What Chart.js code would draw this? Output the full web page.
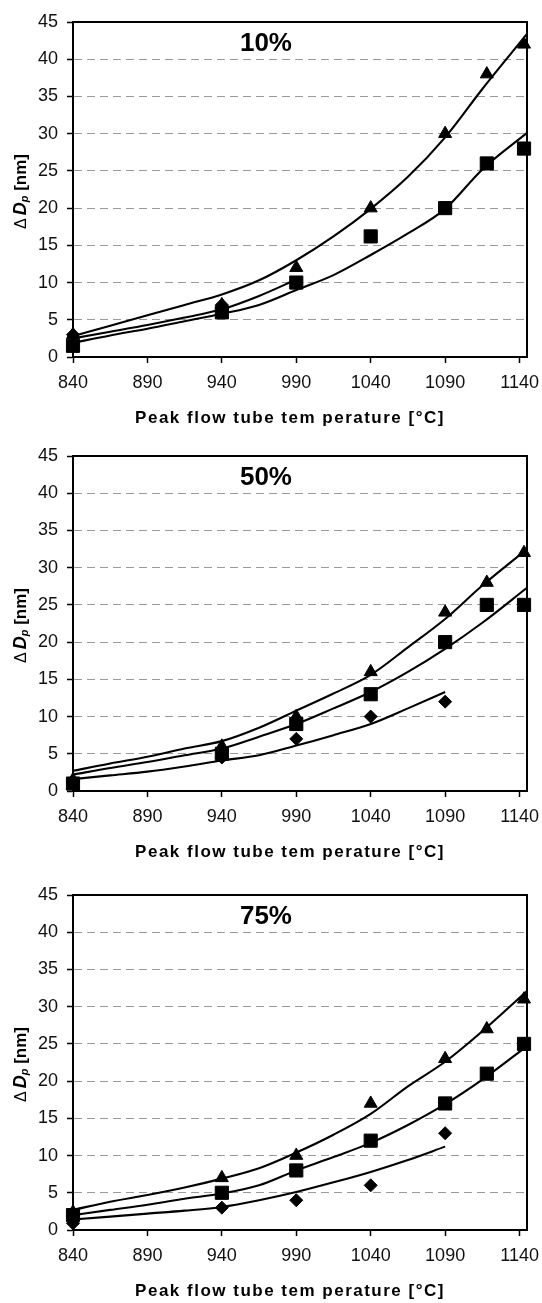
<!DOCTYPE html>
<html>
<head>
<meta charset="utf-8">
<script src="https://cdn.jsdelivr.net/npm/chart.js@4.4.1/dist/chart.umd.min.js"></script>
<style>
  html, body { margin: 0; padding: 0; background: #fff; }
  body { width: 542px; height: 1303px; position: relative; overflow: hidden; }
  .panel { position: absolute; left: 0; width: 542px; height: 430px; }
</style>
</head>
<body>
<div class="panel" style="top:0"><canvas id="c10" width="542" height="430"></canvas></div>
<div class="panel" style="top:434px"><canvas id="c50" width="542" height="430"></canvas></div>
<div class="panel" style="top:873px"><canvas id="c75" width="542" height="430"></canvas></div>
<script>
// temperature axis
const tempTicks = [840, 890, 940, 990, 1040, 1090, 1140];
const markerTemps = [840, 940, 990, 1040, 1090, 1118, 1143];
const fitTemps = [840, 865, 890, 915, 940, 965, 990, 1015, 1040, 1065, 1090, 1115, 1145];
const yTicks = [0, 5, 10, 15, 20, 25, 30, 35, 40, 45];

// 10 %
const tri10 = [3, 7, 12, 20, 30, 38, 42];
const sq10 = [1.5, 6, 10, 16.2, 20, 26, 28];
const dia10 = [3, 7, 10];
const fitTri10 = [2.8, 4.2, 5.6, 7.0, 8.4, 10.3, 13.0, 16.2, 19.9, 24.2, 29.5, 36.0, 43.4];
const fitSq10 = [1.9, 2.9, 3.8, 4.8, 5.8, 7.0, 9.0, 11.0, 13.7, 16.6, 19.9, 25.2, 30.1];
const fitDia10 = [2.5, 3.4, 4.3, 5.3, 6.4, 8.2, 10.4];

// 50 %
const tri50 = [1.5, 6, 10, 16, 24, 28, 32];
const sq50 = [1, 5, 9, 13, 20, 25, 25];
const dia50 = [1.2, 4.5, 7, 10, 12];
const fitTri50 = [2.7, 3.7, 4.6, 5.7, 6.7, 8.5, 10.8, 13.1, 15.6, 19.3, 23.1, 27.6, 32.5];
const fitSq50 = [2.2, 3.1, 3.9, 4.8, 5.7, 7.3, 9.0, 11.1, 13.3, 16.0, 19.1, 22.6, 27.3];
const fitDia50 = [1.6, 2.1, 2.6, 3.3, 4.1, 4.8, 6.1, 7.5, 9.0, 11.1, 13.3];

// 75 %
const tri75 = [2.4, 7, 10, 17, 23, 27, 31];
const sq75 = [2, 5, 8, 12, 17, 21, 25];
const dia75 = [0.9, 3, 4, 6, 13];
const fitTri75 = [2.7, 3.8, 4.7, 5.7, 6.9, 8.3, 10.4, 12.8, 15.6, 19.3, 22.6, 26.7, 32.1];
const fitSq75 = [2.0, 2.7, 3.4, 4.2, 4.9, 6.0, 8.0, 9.8, 11.7, 14.1, 16.9, 20.2, 24.7];
const fitDia75 = [1.4, 1.8, 2.2, 2.6, 3.1, 4.0, 5.1, 6.4, 7.8, 9.4, 11.2];

const FONT = '"Liberation Sans", Arial, sans-serif';

function pts(xs, ys) {
    return ys.map((y, i) => ({ x: xs[i], y: y }));
}

function markerSet(data, style, radius) {
    return {
        data: pts(markerTemps, data),
        pointStyle: style,
        pointRadius: radius,
        backgroundColor: '#000',
        borderColor: '#000',
        borderWidth: 1,
        showLine: false,
        clip: false,
        order: 0
    };
}

function fitSet(data) {
    return {
        data: pts(fitTemps, data),
        showLine: true,
        pointRadius: 0,
        borderColor: '#000',
        borderWidth: 2.1,
        cubicInterpolationMode: 'monotone',
        order: 1
    };
}

// top/right frame, panel label and axis titles
const decorPlugin = {
    id: 'decor',
    beforeDatasetsDraw(chart) {
        const { ctx, chartArea: a } = chart;
        ctx.save();
        ctx.strokeStyle = '#000';
        ctx.lineWidth = 2;
        ctx.beginPath();
        ctx.moveTo(a.left, a.top);
        ctx.lineTo(a.right, a.top);
        ctx.lineTo(a.right, a.bottom);
        ctx.stroke();
        ctx.restore();
    },
    afterDraw(chart, args, opts) {
        const { ctx, chartArea: a } = chart;
        ctx.save();
        ctx.fillStyle = '#000';

        // panel label
        ctx.font = 'bold 26px ' + FONT;
        ctx.textAlign = 'center';
        ctx.textBaseline = 'middle';
        ctx.fillText(opts.label, a.left + (a.right - a.left) * 0.425, a.top + 22);

        // x title
        ctx.font = 'bold 17px ' + FONT;
        ctx.letterSpacing = '1.5px';
        ctx.fillText('Peak flow tube tem perature [°C]', a.left + (a.right - a.left) * 0.478, a.bottom + 61);
        ctx.letterSpacing = '0px';

        // y title: ΔDp [nm], rotated
        const parts = [
            { t: 'Δ', f: '16px ' + FONT, dy: 0, gap: 3 },
            { t: 'D', f: 'italic bold 18px ' + FONT, dy: 0, gap: 0 },
            { t: 'p', f: 'italic bold 11px ' + FONT, dy: 4, gap: 0 },
            { t: ' [nm]', f: 'bold 17px ' + FONT, dy: 0, gap: 0 }
        ];
        let total = 0;
        parts.forEach(p => { ctx.font = p.f; p.w = ctx.measureText(p.t).width; total += p.w + p.gap; });
        ctx.translate(21, (a.top + a.bottom) / 2 + 2);
        ctx.rotate(-Math.PI / 2);
        ctx.textAlign = 'left';
        ctx.textBaseline = 'middle';
        let x = -total / 2;
        parts.forEach(p => {
            ctx.font = p.f;
            ctx.fillText(p.t, x, p.dy + (p.t === 'Δ' ? 1 : 0));
            x += p.w + p.gap;
        });
        ctx.restore();
    }
};

function makeChart(id, label, tri, sq, dia, fitTri, fitSq, fitDia) {
    const diaSet = markerSet(dia, 'rectRot', 6.5);
    diaSet.data = pts(markerTemps.slice(0, dia.length), dia);
    const fitDiaSet = fitSet(fitDia);
    fitDiaSet.data = pts(fitTemps.slice(0, fitDia.length), fitDia);

    return new Chart(document.getElementById(id), {
        type: 'scatter',
        data: {
            datasets: [
                markerSet(tri, 'triangle', 7.5),
                markerSet(sq, 'rect', 9.3),
                diaSet,
                fitSet(fitTri),
                fitSet(fitSq),
                fitDiaSet
            ]
        },
        options: {
            responsive: false,
            animation: false,
            layout: { padding: { top: 22, right: 15, bottom: 0, left: 0 } },
            plugins: {
                legend: { display: false },
                tooltip: { enabled: false },
                decor: { label: label }
            },
            scales: {
                x: {
                    type: 'linear',
                    min: 840,
                    max: 1145,
                    afterBuildTicks(s) { s.ticks = tempTicks.map(v => ({ value: v })); },
                    afterFit(s) { s.height = 73; s.paddingLeft = 0; s.paddingRight = 0; },
                    ticks: {
                        color: '#111',
                        font: { family: FONT, size: 18 },
                        padding: 9,
                        maxRotation: 0,
                        autoSkip: false,
                        callback: v => String(v)
                    },
                    grid: { drawOnChartArea: false, tickColor: '#000', tickLength: 6, tickWidth: 1.5 },
                    border: { color: '#000', width: 2 }
                },
                y: {
                    min: 0,
                    max: 45,
                    afterBuildTicks(s) { s.ticks = yTicks.map(v => ({ value: v })); },
                    afterFit(s) { s.width = 73; s.paddingTop = 0; s.paddingBottom = 0; },
                    ticks: {
                        color: '#111',
                        font: { family: FONT, size: 18 },
                        padding: 9,
                        callback: v => String(v)
                    },
                    grid: {
                        color: c => (c.tick && (c.tick.value === 0 || c.tick.value === 45)) ? 'rgba(0,0,0,0)' : '#9a9a9a',
                        lineWidth: 1,
                        tickColor: '#000',
                        tickLength: 6,
                        tickWidth: 1.5
                    },
                    border: { color: '#000', width: 2, dash: [8, 5] }
                }
            }
        },
        plugins: [decorPlugin]
    });
}

makeChart('c10', '10%', tri10, sq10, dia10, fitTri10, fitSq10, fitDia10);
makeChart('c50', '50%', tri50, sq50, dia50, fitTri50, fitSq50, fitDia50);
makeChart('c75', '75%', tri75, sq75, dia75, fitTri75, fitSq75, fitDia75);
</script>
</body>
</html>
